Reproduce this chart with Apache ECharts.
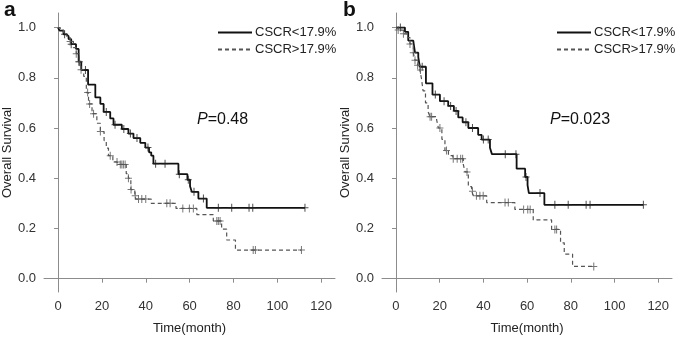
<!DOCTYPE html>
<html>
<head>
<meta charset="utf-8">
<script src="https://cdn.jsdelivr.net/npm/echarts@6/dist/echarts.min.js"></script>
<style>
  html, body { margin: 0; padding: 0; background: #fff; }
  #main { width: 685px; height: 340px; }
</style>
</head>
<body>
<div id="main"></div>
<script>
// KM steps: [time, survival after that time]
var lowA = [[0,1.0],[0.7,0.988],[2.5,0.973],[3.8,0.966],[4.8,0.954],[6,0.934],[8.2,0.915],[9.4,0.864],[10.6,0.831],[13.7,0.773],[17,0.722],[19.3,0.696],[20.8,0.664],[23.8,0.638],[25.3,0.613],[29.1,0.596],[32.1,0.578],[34.4,0.56],[37.5,0.541],[39.8,0.522],[41.5,0.503],[42.5,0.49],[43.5,0.458],[54.9,0.416],[59,0.394],[60.2,0.368],[61,0.346],[64,0.319],[67.8,0.282],[112.6,0.282]];
var highA = [[0,1.0],[1,0.99],[2.5,0.975],[4,0.96],[5.5,0.945],[7,0.92],[8.3,0.896],[9.7,0.864],[10.5,0.832],[11.7,0.806],[12.9,0.741],[13.9,0.696],[15.5,0.657],[17.7,0.619],[19.3,0.586],[21,0.55],[22,0.52],[23,0.49],[25,0.465],[27,0.455],[31.1,0.418],[32.1,0.40],[33.2,0.355],[35,0.33],[35.5,0.317],[42.5,0.300],[53.8,0.280],[63.3,0.255],[70.8,0.230],[74.6,0.197],[76.9,0.154],[80.9,0.114],[111,0.114]];
var lowB = [[0,1.0],[4.1,0.983],[5.6,0.948],[7.9,0.941],[8.7,0.90],[10.2,0.882],[10.9,0.844],[13.7,0.778],[16.7,0.733],[20.1,0.707],[23.9,0.688],[26.5,0.668],[28.5,0.642],[30.5,0.623],[33.1,0.60],[37.6,0.573],[39.2,0.554],[43,0.521],[43.9,0.496],[55.2,0.438],[59.1,0.405],[60.2,0.373],[60.8,0.341],[67.9,0.294],[113.2,0.294]];
var highB = [[0,1.0],[1,0.99],[3.4,0.975],[5,0.96],[6.4,0.935],[7.9,0.9],[8.7,0.87],[9.9,0.85],[10.9,0.831],[11.6,0.80],[12.4,0.748],[13.5,0.70],[14.7,0.664],[15.6,0.645],[18.6,0.632],[19.4,0.60],[21,0.555],[22.4,0.51],[24,0.49],[26,0.478],[30.8,0.455],[31.6,0.425],[33.1,0.367],[34.6,0.348],[35.5,0.33],[41.5,0.303],[54.4,0.276],[62.8,0.234],[71.2,0.196],[75.3,0.143],[77,0.098],[80.8,0.049],[90.5,0.049]];

// censored times
var censLowA = [3, 6, 9.5, 12.5, 22, 26, 30, 33, 36, 41, 44.5, 48.8, 55.3, 59.4, 62, 66.3, 73.1, 79.2, 87.1, 88.8, 112.6];
var censHighA = [5.5, 8.3, 9.7, 10.5, 13.5, 14.4, 16.2, 19.3, 23.8, 26.9, 28.4, 29.1, 29.8, 30.6, 32.1, 33.3, 35.2, 36.7, 38.2, 40, 49.6, 51.1, 56.9, 59.9, 61.7, 72.4, 73.1, 73.9, 89, 90, 111];
var censLowB = [2, 12, 18, 22, 25, 27.5, 32, 35, 40, 42.2, 50, 54.9, 59.5, 65.9, 72.7, 78.8, 87, 88.8, 113.2];
var censHighB = [1, 3.4, 6.4, 7.9, 8.7, 9.9, 11.2, 15.6, 16.3, 20.1, 23.1, 26.2, 28, 29.6, 30.5, 32.5, 35, 36.8, 38.4, 39.9, 49.9, 51.4, 58.4, 60.3, 61.4, 72.7, 73.5, 90.5];

var xTicks = [0, 20, 40, 60, 80, 100, 120];
var yTicks = [0, 0.2, 0.4, 0.6, 0.8, 1.0];
var nameLow = 'CSCR<17.9%';
var nameHigh = 'CSCR>17.9%';
var pTexts = ['0.48', '0.023'];

var font = 'Liberation Sans, Arial, sans-serif';
var axisGray = '#8c8c8c';
var plus = 'path://M0,3.5H7V4.5H0Z M3,0H4V8H3Z';

function survAt(steps, t) {
    var s = steps[0][1];
    for (var i = 0; i < steps.length; i++) {
        if (steps[i][0] <= t) s = steps[i][1];
    }
    return s;
}

function xAxisFor(idx) {
    return {
        gridIndex: idx, type: 'value', min: -6.4, max: 126.3,
        name: 'Time(month)', nameLocation: 'middle', nameGap: 30,
        nameTextStyle: { fontFamily: font, fontSize: 13, color: '#222' },
        axisLine: { lineStyle: { color: axisGray, width: 1 } },
        axisTick: { show: true, length: 4, customValues: xTicks, lineStyle: { color: axisGray } },
        axisLabel: { customValues: xTicks, margin: 8, fontFamily: font, fontSize: 13, color: '#333' },
        splitLine: { show: false }
    };
}
function yAxisFor(idx) {
    return {
        gridIndex: idx, type: 'value', min: -0.053, max: 1.058,
        name: 'Overall Survival', nameLocation: 'middle', nameGap: 30,
        nameTextStyle: { fontFamily: font, fontSize: 13, color: '#222' },
        axisLine: { show: true, lineStyle: { color: axisGray, width: 1 } },
        axisTick: { show: true, length: 4, customValues: yTicks, lineStyle: { color: axisGray } },
        axisLabel: { customValues: yTicks, margin: 8, fontFamily: font, fontSize: 13, color: '#333',
            formatter: function (v) { return v.toFixed(1); } },
        splitLine: { show: false }
    };
}

function kmSeries(idx, steps, cens, name, dashed) {
    var lineColor = dashed ? '#555' : '#111';
    return [{
        name: name, type: 'line', xAxisIndex: idx, yAxisIndex: idx,
        step: 'end', symbol: 'none', data: steps, z: 3,
        color: lineColor,
        lineStyle: dashed ? { color: lineColor, width: 1.2, type: [4, 3] } : { color: lineColor, width: 1.8 }
    }, {
        type: 'scatter', xAxisIndex: idx, yAxisIndex: idx,
        symbol: plus, symbolSize: [7, 8], z: 4, silent: true,
        itemStyle: { color: dashed ? '#555' : '#222' },
        data: cens.map(function (t) { return [t, survAt(steps, t)]; })
    }];
}

function legendFor(left) {
    return {
        left: left, top: 21, orient: 'vertical', itemWidth: 34, itemHeight: 10, itemGap: 4,
        data: [nameLow, nameHigh], selectedMode: false,
        itemStyle: { opacity: 0 },
        textStyle: { fontFamily: font, fontSize: 13, color: '#222', padding: [0, 0, 0, -2] }
    };
}

var option = {
    backgroundColor: '#fff',
    animation: false,
    grid: [
        { left: 44, top: 13, width: 291, height: 288 },
        { left: 382, top: 13, width: 290, height: 288 }
    ],
    legend: [legendFor(212), legendFor(551)],
    xAxis: [xAxisFor(0), xAxisFor(1)],
    yAxis: [yAxisFor(0), yAxisFor(1)],
    series: [].concat(
        kmSeries(0, lowA, censLowA, nameLow, false),
        kmSeries(0, highA, censHighA, nameHigh, true),
        kmSeries(1, lowB, censLowB, nameLow, false),
        kmSeries(1, highB, censHighB, nameHigh, true)
    ),
    graphic: [
        { type: 'text', left: 4, top: 0, style: { text: 'a', fontFamily: font, fontSize: 21, fontWeight: 'bold', fill: '#111' } },
        { type: 'text', left: 343, top: 0, style: { text: 'b', fontFamily: font, fontSize: 21, fontWeight: 'bold', fill: '#111' } },
        { type: 'text', left: 197, top: 112, style: { text: '{i|P}=' + pTexts[0], fontFamily: font, fontSize: 16, fill: '#111',
            rich: { i: { fontStyle: 'italic', fontFamily: font, fontSize: 16, fill: '#111' } } } },
        { type: 'text', left: 550, top: 112, style: { text: '{i|P}=' + pTexts[1], fontFamily: font, fontSize: 16, fill: '#111',
            rich: { i: { fontStyle: 'italic', fontFamily: font, fontSize: 16, fill: '#111' } } } }
    ]
};

var myChart = echarts.init(document.getElementById('main'));
myChart.setOption(option);
</script>
</body>
</html>
